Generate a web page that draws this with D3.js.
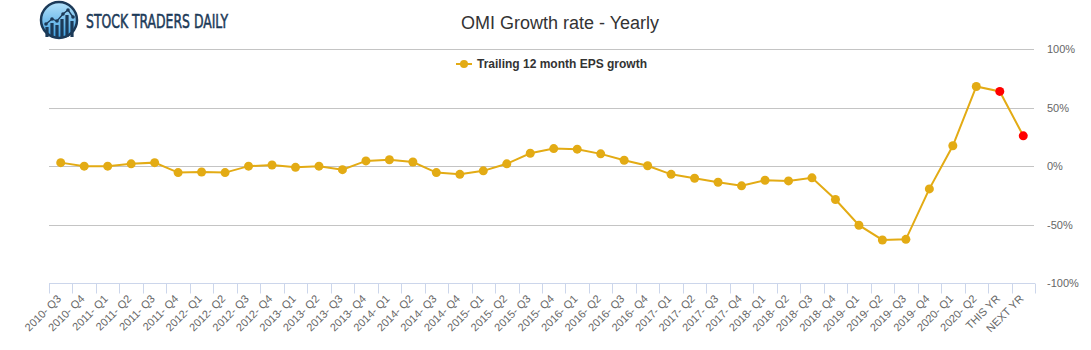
<!DOCTYPE html>
<html>
<head>
  <title>OMI Growth rate - Yearly</title>
  <script src="https://cdn.jsdelivr.net/npm/d3@7"></script>
  <style>
    body { margin: 0; background: #fff; }
    text { font-family: "Liberation Sans", Arial, sans-serif; }
  </style>
</head>
<body>
  <svg width="1091" height="350" id="mainsvg"></svg>
  <script>
    // categories (quarters + two yearly estimates)
    const quarters = [
      '2010- Q3', '2010- Q4',
      '2011- Q1', '2011- Q2', '2011- Q3', '2011- Q4',
      '2012- Q1', '2012- Q2', '2012- Q3', '2012- Q4',
      '2013- Q1', '2013- Q2', '2013- Q3', '2013- Q4',
      '2014- Q1', '2014- Q2', '2014- Q3', '2014- Q4',
      '2015- Q1', '2015- Q2', '2015- Q3', '2015- Q4',
      '2016- Q1', '2016- Q2', '2016- Q3', '2016- Q4',
      '2017- Q1', '2017- Q2', '2017- Q3', '2017- Q4',
      '2018- Q1', '2018- Q2', '2018- Q3', '2018- Q4',
      '2019- Q1', '2019- Q2', '2019- Q3', '2019- Q4',
      '2020- Q1', '2020- Q2'
    ];
    const estimates = ['THIS YR', 'NEXT YR'];
    const categories = quarters.concat(estimates);

    // trailing 12 month EPS growth, percent
    const growth = [
      3, 0, 0, 2, 3, -5.5, -5, -5.5, 0, 1,
      -1, 0, -3, 4.5, 5.5, 3.5, -5.5, -7, -4, 2,
      11, 15, 14.5, 10.5, 5, 0.3, -7, -10.3, -13.7, -16.8,
      -12, -12.6, -10, -28.5, -50.4, -63, -62.5, -19.4, 17.4, 68,
      63.8, 25.9
    ];
    const yTicks = [-100, -50, 0, 50, 100];

    const svg = d3.select('#mainsvg');
    const lineColor = '#e3ab14';
    const estColor = '#ff0000';

    const x = d3.scaleBand().domain(categories).range([49, 1035]);
    const y = d3.scaleLinear().domain([-100, 100]).range([283.3, 49]);
    const cx = c => x(c) + x.bandwidth() / 2;

    // logo
    const logo = svg.append('g');
    const grad = svg.append('defs').append('linearGradient')
      .attr('id', 'lg').attr('x1', 0).attr('y1', 0).attr('x2', 0).attr('y2', 1);
    grad.append('stop').attr('offset', '0%').attr('stop-color', '#b5e2fa');
    grad.append('stop').attr('offset', '100%').attr('stop-color', '#3c9ee0');
    logo.append('circle').attr('cx', 59).attr('cy', 20).attr('r', 18)
      .attr('fill', 'url(#lg)').attr('stroke', '#1c3a58').attr('stroke-width', 2.5);
    const bars = [[47, 27], [52, 23], [57, 25], [62, 19], [67, 15], [72, 21]];
    logo.selectAll('rect.b').data(bars).join('rect')
      .attr('x', d => d[0] - 1.6).attr('y', d => d[1])
      .attr('width', 3.2).attr('height', d => 37 - d[1])
      .attr('fill', '#1c3a58');
    const pts = [[46, 24], [52, 19], [57, 21], [63, 14], [68, 10], [73, 17]];
    logo.append('path').attr('d', d3.line()(pts))
      .attr('fill', 'none').attr('stroke', '#1c3a58').attr('stroke-width', 1.3);
    logo.selectAll('circle.p').data(pts).join('circle')
      .attr('cx', d => d[0]).attr('cy', d => d[1]).attr('r', 1.8).attr('fill', '#1c3a58');
    svg.append('text')
      .attr('x', 86).attr('y', 27.5)
      .attr('textLength', 142).attr('lengthAdjust', 'spacingAndGlyphs')
      .style('font-family', '"Liberation Sans Narrow", "DejaVu Sans Condensed", sans-serif')
      .style('font-size', '19px')
      .attr('fill', '#1c3a58').attr('stroke', '#1c3a58').attr('stroke-width', 0.5)
      .text('STOCK TRADERS DAILY');

    // title
    svg.append('text')
      .attr('x', 560).attr('y', 29)
      .attr('text-anchor', 'middle')
      .style('font-size', '18px')
      .attr('fill', '#333333')
      .text('OMI Growth rate - Yearly');

    // grid
    svg.append('g').selectAll('line').data(yTicks.filter(t => t > -100)).join('line')
      .attr('x1', 49).attr('x2', 1034)
      .attr('y1', d => Math.round(y(d)) + 0.5).attr('y2', d => Math.round(y(d)) + 0.5)
      .attr('stroke', '#c4c4c4').attr('stroke-width', 1);

    // y labels on the right
    svg.append('g').selectAll('text').data(yTicks).join('text')
      .attr('x', 1047).attr('y', d => y(d) + 4)
      .style('font-size', '11px')
      .attr('fill', '#666666')
      .text(d => d + '%');

    // x axis
    const axisY = Math.round(y(-100)) + 0.5;
    svg.append('line').attr('x1', 49).attr('x2', 1035)
      .attr('y1', axisY).attr('y2', axisY)
      .attr('stroke', '#ccd6eb');
    const tickPos = categories.map(c => x(c)).concat([x.range()[1]]);
    svg.append('g').selectAll('line').data(tickPos).join('line')
      .attr('x1', d => Math.round(d) + 0.5).attr('x2', d => Math.round(d) + 0.5)
      .attr('y1', axisY).attr('y2', axisY + 10)
      .attr('stroke', '#ccd6eb');
    svg.append('g').selectAll('text').data(categories).join('text')
      .attr('text-anchor', 'end')
      .attr('transform', d => `translate(${cx(d) + 1},${axisY + 16}) rotate(-45)`)
      .style('font-size', '11px')
      .attr('fill', '#666666')
      .text(d => d);

    // legend
    svg.append('line').attr('x1', 456).attr('x2', 472).attr('y1', 64).attr('y2', 64)
      .attr('stroke', lineColor).attr('stroke-width', 2);
    svg.append('circle').attr('cx', 464).attr('cy', 64).attr('r', 4).attr('fill', lineColor);
    svg.append('text').attr('x', 477).attr('y', 68)
      .style('font-size', '12px').style('font-weight', 'bold')
      .attr('fill', '#333333')
      .text('Trailing 12 month EPS growth');

    // series
    const data = categories.map((c, i) => ({ c, v: growth[i], est: estimates.includes(c) }));
    svg.append('path')
      .attr('d', d3.line().x(d => cx(d.c)).y(d => y(d.v))(data))
      .attr('fill', 'none').attr('stroke', lineColor).attr('stroke-width', 2);
    svg.append('g').selectAll('circle').data(data).join('circle')
      .attr('cx', d => cx(d.c)).attr('cy', d => y(d.v)).attr('r', 4.5)
      .attr('fill', d => d.est ? estColor : lineColor);
  </script>
</body>
</html>
